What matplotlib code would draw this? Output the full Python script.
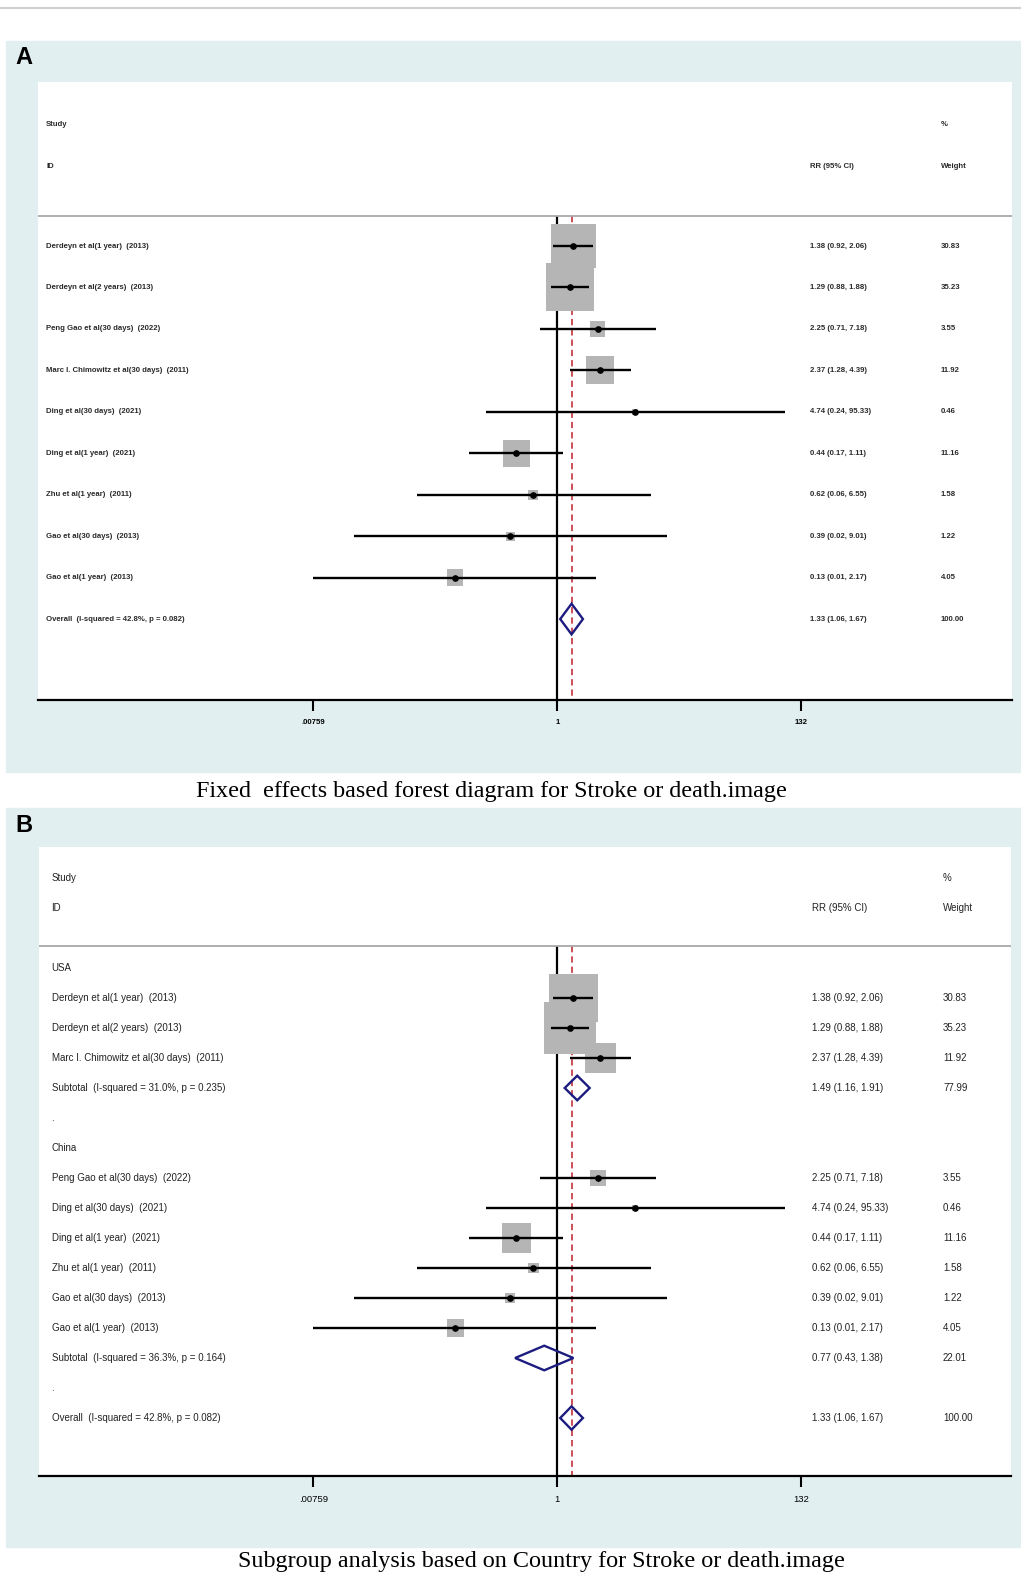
import numpy as np
import matplotlib.pyplot as plt
from matplotlib.patches import Rectangle, Polygon
from matplotlib.lines import Line2D
from matplotlib.transforms import blended_transform_factory

plt.rcParams['font.family'] = ['Liberation Sans', 'DejaVu Sans']

# ---- data ----
studies = ["Derdeyn et al(1 year)  (2013)",
           "Derdeyn et al(2 years)  (2013)",
           "Peng Gao et al(30 days)  (2022)",
           "Marc I. Chimowitz et al(30 days)  (2011)",
           "Ding et al(30 days)  (2021)",
           "Ding et al(1 year)  (2021)",
           "Zhu et al(1 year)  (2011)",
           "Gao et al(30 days)  (2013)",
           "Gao et al(1 year)  (2013)"]
rr = [1.38, 1.29, 2.25, 2.37, 4.74, 0.44, 0.62, 0.39, 0.13]
ci_lo = [0.92, 0.88, 0.71, 1.28, 0.24, 0.17, 0.06, 0.017, 0.00759]
ci_hi = [2.06, 1.88, 7.18, 4.39, 95.33, 1.11, 6.55, 9.01, 2.17]
weight = [30.83, 35.23, 3.55, 11.92, 0.46, 11.16, 1.58, 1.22, 4.05]
ci_text = ["1.38 (0.92, 2.06)", "1.29 (0.88, 1.88)", "2.25 (0.71, 7.18)",
           "2.37 (1.28, 4.39)", "4.74 (0.24, 95.33)", "0.44 (0.17, 1.11)",
           "0.62 (0.06, 6.55)", "0.39 (0.02, 9.01)", "0.13 (0.01, 2.17)"]
weight_text = ["30.83", "35.23", "3.55", "11.92", "0.46", "11.16", "1.58", "1.22", "4.05"]

overall = (1.33, 1.06, 1.67)
overall_label = "Overall  (I-squared = 42.8%, p = 0.082)"
overall_ci = "1.33 (1.06, 1.67)"

# subgroups (panel B)
groups = ["USA", "China"]
group_idx = [[0, 1, 3], [2, 4, 5, 6, 7, 8]]
group_sub = [(1.49, 1.16, 1.91), (0.77, 0.43, 1.38)]
group_sub_label = ["Subtotal  (I-squared = 31.0%, p = 0.235)",
                   "Subtotal  (I-squared = 36.3%, p = 0.164)"]
group_sub_ci = ["1.49 (1.16, 1.91)", "0.77 (0.43, 1.38)"]
group_sub_w = ["77.99", "22.01"]

xticks = [0.00759, 1, 132]
xtick_labels = [".00759", "1", "132"]

caption_a = "Fixed  effects based forest diagram for Stroke or death.image"
caption_b = "Subgroup analysis based on Country for Stroke or death.image"

# ---- layout ----
W, H = 1021, 1578
fig = plt.figure(figsize=(W / 100, H / 100), dpi=100)
BG = '#e2eff0'
GREY_SQ = '#b5b5b5'
NAVY = '#1c1c80'
RED = '#c8414b'

fig.add_artist(Line2D([0, 1], [1 - 7.5 / H] * 2, transform=fig.transFigure,
                      color='#d0d0d0', lw=1.5))


def bg(y0, y1):
    r = Rectangle((6 / W, 1 - y1 / H), (W - 6) / W, (y1 - y0) / H,
                  transform=fig.transFigure, color=BG, zorder=-1)
    fig.patches.append(r)


def make_ax(x0, y0, x1, y1, row0_px, step_px):
    ax = fig.add_axes([x0 / W, 1 - y1 / H, (x1 - x0) / W, (y1 - y0) / H])
    ax.set_facecolor('white')
    ax.set_xscale('log')
    null_px, ppl = 557.3, 50.0
    ax.set_xlim(np.exp((x0 - null_px) / ppl), np.exp((x1 - null_px) / ppl))
    ax.set_ylim((y1 - row0_px) / step_px, (y0 - row0_px) / step_px)
    for s in ['top', 'left', 'right']:
        ax.spines[s].set_visible(False)
    ax.spines['bottom'].set_linewidth(1.6)
    ax.set_yticks([])
    ax.set_xticks(xticks)
    ax.set_xticklabels(xtick_labels)
    ax.minorticks_off()
    ax.tick_params(axis='x', length=8, width=1.5, pad=6, labelsize=5.8)
    tr = blended_transform_factory(ax.transAxes, ax.transData)
    return ax, tr


def study_marks(ax, ys, idx, k=33.9):
    ax.scatter([rr[i] for i in idx], ys, s=[k * weight[i] for i in idx],
               marker='s', color=GREY_SQ, edgecolors='none', zorder=3)
    ax.hlines(ys, [ci_lo[i] for i in idx], [ci_hi[i] for i in idx],
              color='black', lw=1.7, zorder=4)
    ax.plot([rr[i] for i in idx], ys, 'o', ms=3.8, color='black', zorder=5)


def diamond(ax, y, est, lo, hi, h):
    ax.add_patch(Polygon([(lo, y), (est, y - h), (hi, y), (est, y + h)],
                         closed=True, fill=False, edgecolor=NAVY, lw=1.7, zorder=4))


def ref_lines(ax, top):
    bottom = ax.get_ylim()[0]
    ax.vlines(1, top, bottom, color='black', lw=1.6, zorder=2)
    ax.vlines(overall[0], top, bottom, color=RED, lw=1.3,
              linestyles=(0, (3.5, 2.2)), zorder=2)
    ax.axhline(top, color='#a8a8a8', lw=1.3, zorder=2)


# ---------------- Panel A ----------------
bg(41, 772)
fig.text(15 / W, 1 - 58 / H, "A", fontsize=17, fontweight='bold', va='center')
axA, trA = make_ax(38, 82, 1012, 700, 246, 41.45)
xa_lab, xa_ci, xa_w = (46 - 38) / 974, (810 - 38) / 974, (941 - 38) / 974
colA = dict(fontsize=5.6, fontweight='bold', va='center', color='#2a2a2a', transform=trA)
axA.text(xa_lab, -2.94, "Study", **colA)
axA.text(xa_lab, -1.93, "ID", **colA)
axA.text(xa_ci, -1.93, "RR (95% CI)", **colA)
axA.text(xa_w, -2.94, "%", **colA)
axA.text(xa_w, -1.93, "Weight", **colA)

rowsA = list(range(len(studies)))
for r, i in zip(rowsA, range(len(studies))):
    axA.text(xa_lab, r, studies[i], **colA)
    axA.text(xa_ci, r, ci_text[i], **colA)
    axA.text(xa_w, r, weight_text[i], **colA)
study_marks(axA, rowsA, list(range(len(studies))))
ov_row = len(studies)
axA.text(xa_lab, ov_row, overall_label, **colA)
axA.text(xa_ci, ov_row, overall_ci, **colA)
axA.text(xa_w, ov_row, "100.00", **colA)
diamond(axA, ov_row, *overall, h=0.37)
ref_lines(axA, -0.72)
axA.tick_params(axis='x', labelsize=5.6)
for t in axA.get_xticklabels():
    t.set_fontweight('bold')

fig.text(491 / W, 1 - 791 / H, caption_a, family='Liberation Serif',
         fontsize=17.4, ha='center', va='center')

# ---------------- Panel B ----------------
bg(808, 1547)
fig.text(15 / W, 1 - 825 / H, "B", fontsize=17, fontweight='bold', va='center')
axB, trB = make_ax(39, 847, 1011, 1476, 968, 30.0)
xb_lab, xb_ci, xb_w = (51.5 - 39) / 972, (812 - 39) / 972, (943 - 39) / 972
colB = dict(fontsize=7.0, va='center', color='#222222', transform=trB)
axB.text(xb_lab, -3.0, "Study", **colB)
axB.text(xb_lab, -2.0, "ID", **colB)
axB.text(xb_ci, -2.0, "RR (95% CI)", **colB)
axB.text(xb_w, -3.0, "%", **colB)
axB.text(xb_w, -2.0, "Weight", **colB)

row = 0
for g, name in enumerate(groups):
    axB.text(xb_lab, row, name, **colB)
    row += 1
    ys = []
    for i in group_idx[g]:
        axB.text(xb_lab, row, studies[i], **colB)
        axB.text(xb_ci, row, ci_text[i], **colB)
        axB.text(xb_w, row, weight_text[i], **colB)
        ys.append(row)
        row += 1
    study_marks(axB, ys, group_idx[g], k=39.5)
    axB.text(xb_lab, row, group_sub_label[g], **colB)
    axB.text(xb_ci, row, group_sub_ci[g], **colB)
    axB.text(xb_w, row, group_sub_w[g], **colB)
    diamond(axB, row, *group_sub[g], h=0.41)
    row += 1
    axB.text(xb_lab, row, ".", **colB)
    row += 1
axB.text(xb_lab, row, overall_label, **colB)
axB.text(xb_ci, row, overall_ci, **colB)
axB.text(xb_w, row, "100.00", **colB)
diamond(axB, row, *overall, h=0.39)
axB.tick_params(axis='x', labelsize=6.8)
ref_lines(axB, -0.733)

fig.text(541 / W, 1 - 1562 / H, caption_b, family='Liberation Serif',
         fontsize=17.4, ha='center', va='center')

fig.savefig('out.png', dpi=100)
